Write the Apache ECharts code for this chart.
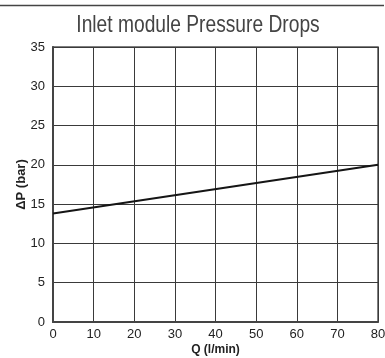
<!DOCTYPE html>
<html>
<head>
<meta charset="utf-8">
<script src="https://cdn.jsdelivr.net/npm/echarts@6/dist/echarts.min.js"></script>
<style>
  html, body { margin: 0; padding: 0; background: #fff; }
  #chart { width: 385px; height: 358px; }
</style>
</head>
<body>
<div id="chart"></div>
<script>
// Flow rate (l/min) and pressure drop (bar) of the inlet module
const flowRates = [0, 80];
const pressureDrops = [13.8, 20.0];

const xTicks = { min: 0, max: 80, interval: 10 };
const yTicks = { min: 0, max: 35, interval: 5 };

const titleText = 'Inlet module Pressure Drops';
const xName = 'Q (l/min)';
const yName = '\u0394P (bar)';

const chart = echarts.init(document.getElementById('chart'), null, { renderer: 'canvas' });

const gridLine = { show: true, lineStyle: { color: '#3a3a3a', width: 1 } };
const labelFont = { color: '#222', fontSize: 13, fontFamily: 'Liberation Sans, Arial, sans-serif' };
const nameFont = { color: '#222', fontSize: 12, fontWeight: 'bold', fontFamily: 'Liberation Sans, Arial, sans-serif' };

chart.setOption({
  animation: false,
  backgroundColor: '#fff',
  graphic: [{
    type: 'line',
    shape: { x1: 0, y1: 5.5, x2: 384, y2: 5.5 },
    style: { stroke: '#444', lineWidth: 1.5 }
  }, {
    // condensed heading: regular sans squeezed horizontally
    type: 'text',
    x: 198,
    y: 25,
    scaleX: 0.8,
    style: {
      text: titleText,
      align: 'center',
      verticalAlign: 'middle',
      font: '24px "Liberation Sans", Arial, sans-serif',
      fill: '#444'
    }
  }],
  grid: {
    left: 53, right: 7, top: 47, bottom: 36,
    containLabel: false, outerBoundsMode: 'none',
    show: true, borderColor: '#555', borderWidth: 1.5
  },
  xAxis: {
    type: 'value',
    min: xTicks.min, max: xTicks.max, interval: xTicks.interval,
    name: xName,
    nameLocation: 'middle',
    nameGap: 22,
    nameMoveOverlap: false,
    nameTextStyle: nameFont,
    axisLine: { show: true, lineStyle: { color: '#444', width: 2 } },
    axisTick: { show: false },
    axisLabel: Object.assign({ margin: 6 }, labelFont),
    splitLine: gridLine
  },
  yAxis: {
    type: 'value',
    min: yTicks.min, max: yTicks.max, interval: yTicks.interval,
    name: yName,
    nameLocation: 'middle',
    nameGap: 25,
    nameMoveOverlap: false,
    nameRotate: 90,
    nameTextStyle: Object.assign({}, nameFont, { fontSize: 13 }),
    axisLine: { show: true, lineStyle: { color: '#444', width: 2 } },
    axisTick: { show: false },
    axisLabel: Object.assign({ margin: 8 }, labelFont),
    splitLine: gridLine
  },
  series: [{
    type: 'line',
    data: flowRates.map((q, i) => [q, pressureDrops[i]]),
    symbol: 'none',
    lineStyle: { color: '#151515', width: 2 }
  }]
});
</script>
</body>
</html>
